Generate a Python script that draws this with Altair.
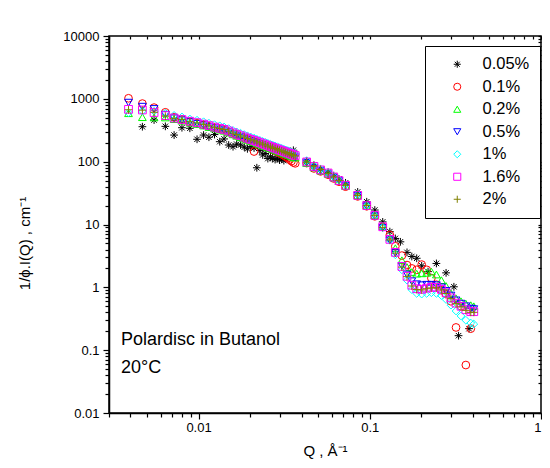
import altair as alt
import pandas as pd

SERIES = ["0.05%", "0.1%", "0.2%", "0.5%", "1%", "1.6%", "2%"]
COLORS = ["#000000", "#FF0000", "#00FF00", "#0000FF", "#00FFFF", "#FF00FF", "#808000"]
ASTER = "M-1,0L1,0M0,-1L0,1M-0.7,-0.7L0.7,0.7M-0.7,0.7L0.7,-0.7"
PLUS = "M-1,0L1,0M0,-1L0,1"
SHAPES = [ASTER, "circle", "triangle-up", "triangle-down", "diamond", "square", PLUS]

# common Q grid (1/A) for the coloured series
Q_LOW = [0.0039, 0.0047, 0.0055, 0.0064, 0.0072, 0.0080, 0.0089, 0.0098, 0.0107, 0.0115,
         0.0124, 0.0133, 0.0141, 0.0150, 0.0159, 0.0167, 0.0176, 0.0185, 0.0193, 0.0202,
         0.0211, 0.0219, 0.0228, 0.0237, 0.0245, 0.0254, 0.0263, 0.0271, 0.0280, 0.0289,
         0.0297, 0.0306, 0.0315, 0.0323, 0.0332, 0.0341, 0.0349, 0.0358, 0.0367]
Q_HIGH = [0.0428, 0.0472, 0.0516, 0.0571, 0.0616, 0.0661, 0.0722, 0.085, 0.096, 0.107,
          0.119, 0.131, 0.141, 0.154, 0.165, 0.176, 0.188, 0.201, 0.215, 0.229,
          0.245, 0.262, 0.279, 0.298, 0.319, 0.341, 0.364, 0.389, 0.405]

I_01 = [1020, 840, 725, 610, 510, 470, 430, 410, 385, 365, 345, 330, 318, 298, 278, 262, 248, 236, 225, 215,
        145, 200, 192, 183, 175, 168, 161, 155, 149, 143, 137, 132, 126, 120, 114, 108, 102, 97, 94,
        95, 78, 70, 62, 54, 48, 40, 28, 19.5, 13.5, 9.2, 6.8, 4.5, 3.2, 2.26, 2.0, 1.9, 2.3, 1.9, 1.4,
        1.1, 0.9, 0.78, 0.6, 0.23, 0.5, 0.058, 0.22, None]
I_02 = [590, 510, 505, 505, 475, 448, 418, 398, 376, 356, 337, 323, 310, 291, 272, 258, 245, 233, 223, 213,
        204, 197, 189, 182, 176, 169, 164, 159, 154, 149, 145, 141, 137, 133, 129, 126, 123, 119, 116,
        95, 81, 72, 64, 56, 49, 41, 29, 20, 14, 9.5, 6.2, 4.2, 2.7, 2.1, 1.75, 1.65, 1.67, 1.7, 1.78,
        1.6, 1.3, 1.05, 0.8, 0.67, 0.6, 0.55, 0.52, 0.50]
I_05 = [870, 750, 690, 560, 490, 455, 425, 400, 378, 358, 340, 326, 312, 293, 275, 261, 247, 236, 225, 215,
        206, 199, 191, 183, 177, 171, 165, 160, 155, 150, 146, 142, 138, 134, 130, 127, 124, 120, 117,
        96, 80, 71, 63, 55, 49, 41, 28.5, 19.5, 13.5, 8.8, 5.6, 3.5, 2.2, 1.6, 1.25, 1.12, 1.08, 1.1, 1.1,
        1.08, 1.0, 0.88, 0.74, 0.62, 0.55, 0.5, 0.46, 0.45]
I_1 = [600, 640, 635, 590, 545, 515, 478, 458, 432, 410, 388, 372, 357, 336, 314, 298, 283, 270, 258, 247,
       237, 228, 219, 210, 204, 196, 189, 184, 178, 173, 167, 163, 158, 154, 150, 146, 142, 138, 134,
       104, 86, 76, 67, 58, 51, 43, 30, 20, 14, 9.0, 5.6, 3.3, 1.9, 1.3, 0.92, 0.8, 0.78, 0.8, 0.82,
       0.8, 0.74, 0.64, 0.52, 0.42, 0.35, 0.30, 0.27, 0.26]
I_16 = [680, 665, 605, 540, 495, 468, 440, 418, 395, 375, 355, 340, 326, 308, 288, 273, 259, 247, 236, 226,
        217, 209, 201, 193, 186, 180, 174, 169, 164, 159, 154, 150, 146, 142, 138, 135, 131, 128, 125,
        99, 84, 74, 66, 57, 50, 42, 29, 20, 14, 9.2, 5.8, 3.6, 2.15, 1.5, 1.08, 0.95, 0.93, 0.97, 1.0,
        1.0, 0.93, 0.82, 0.68, 0.56, 0.50, 0.44, 0.41, 0.41]
I_2 = [670, 660, 610, 530, 490, 470, 433, 415, 392, 372, 352, 338, 325, 305, 285, 271, 257, 245, 234, 224,
       215, 207, 199, 191, 185, 178, 172, 167, 162, 157, 152, 148, 144, 140, 136, 133, 130, 126, 123,
       98, 85, 75, 65, 57, 50, 42, 29, 20, 14, 9.0, 5.7, 3.5, 2.1, 1.48, 1.05, 0.92, 0.91, 0.95, 0.98,
       0.98, 0.91, 0.80, 0.66, 0.55, 0.49, 0.43, 0.40, 0.40]

# 0.05 % series has its own Q points
Q_005 = [0.0047, 0.0055, 0.0064, 0.0072, 0.0080, 0.0089, 0.0098, 0.0107, 0.0115, 0.0124,
         0.0133, 0.0141, 0.0150, 0.0159, 0.0167, 0.0176, 0.0185, 0.0193, 0.0202, 0.0211,
         0.0219, 0.0228, 0.0237, 0.0245, 0.0254, 0.0263, 0.0271, 0.0280, 0.0289, 0.0297,
         0.0306, 0.0315, 0.0323, 0.0332, 0.0341, 0.0349, 0.0358,
         0.0428, 0.0472, 0.0516, 0.0571, 0.0616, 0.0661, 0.0722, 0.085, 0.096, 0.107,
         0.119, 0.131, 0.141, 0.151, 0.165, 0.176, 0.188, 0.201, 0.219, 0.245, 0.279,
         0.310, 0.330, 0.380]
I_005 = [360, 460, 365, 265, 347, 340, 227, 265, 245, 270, 208, 230, 184, 173, 190, 184, 170, 160, 175, 165,
         80, 150, 128, 135, 112, 120, 112, 108, 115, 106, 110, 104, 112, 118, 125, 140, 152,
         102, 88, 76, 68, 60, 53, 46, 33, 23, 17, 11, 7.7, 6.0, 5.3, 3.6, 3.1, 2.9, 2.2, 1.78, 2.4, 1.7,
         1.02, 0.17, 0.22]

X_TICKS = [0.003, 0.004, 0.005, 0.006, 0.007, 0.008, 0.009,
           0.01, 0.02, 0.03, 0.04, 0.05, 0.06, 0.07, 0.08, 0.09,
           0.1, 0.2, 0.3, 0.4, 0.5, 0.6, 0.7, 0.8, 0.9, 1]
Y_TICKS = []
for e in range(-2, 4):
    for m in range(1, 10):
        Y_TICKS.append(round(m * 10 ** e, 6))
Y_TICKS.append(10000)

ANNOT = ["Polardisc in Butanol", "20°C"]

rows = []
for q, v in zip(Q_005, I_005):
    rows.append({"Q": q, "I": v, "s": SERIES[0], "o": 0})
QALL = Q_LOW + Q_HIGH
for k, vals in enumerate([I_01, I_02, I_05, I_1, I_16, I_2]):
    for q, v in zip(QALL, vals):
        if v is not None:
            rows.append({"Q": q, "I": v, "s": SERIES[k + 1], "o": k + 1})
df = pd.DataFrame(rows)

FONT = "Liberation Sans"
POW10 = "abs(log(datum.value)/LN10 - round(log(datum.value)/LN10)) < 0.001"
tick_major_minor = {"condition": {"test": POW10, "value": 6}, "value": 4}

xscale = alt.Scale(type="log", domain=[0.003, 1], nice=False)
yscale = alt.Scale(type="log", domain=[0.01, 10000], nice=False)

points = alt.Chart(df).mark_point(filled=False, size=60, strokeWidth=1, opacity=1).encode(
    x=alt.X("Q:Q", scale=xscale, title="Q , Å⁻¹",
            axis=alt.Axis(values=X_TICKS, format="~g", labelExpr=f"{POW10} ? datum.label : ''",
                          tickSize=tick_major_minor, labelOverlap=False, labelFlush=True,
                          labelPadding=2, titlePadding=9, titleFontSize=15)),
    y=alt.Y("I:Q", scale=yscale, title="1/ϕ.I(Q) , cm⁻¹",
            axis=alt.Axis(values=Y_TICKS, format="~g", labelExpr=f"{POW10} ? datum.label : ''",
                          tickSize=tick_major_minor, labelOverlap=False, labelFlush=False,
                          labelPadding=4, titlePadding=30, titleY=207, titleFontSize=15)),
    color=alt.Color("s:N", scale=alt.Scale(domain=SERIES, range=COLORS),
                    legend=alt.Legend(title=None, orient="none", legendX=316, legendY=10,
                                      strokeColor="black", fillColor="white", padding=10,
                                      symbolOffset=14, labelOffset=17, rowPadding=5.5,
                                      labelFont=FONT, labelFontSize=16.5, labelColor="black",
                                      symbolSize=50, symbolStrokeWidth=1)),
    shape=alt.Shape("s:N", scale=alt.Scale(domain=SERIES, range=SHAPES)),
    order=alt.Order("o:Q"),
)

mirror = alt.Chart(df).mark_point(opacity=0).encode(
    x=alt.X("Q:Q", scale=xscale,
            axis=alt.Axis(orient="top", values=X_TICKS, labels=False, title=None, domain=False,
                          tickSize=3, offset=-3)),
    y=alt.Y("I:Q", scale=yscale,
            axis=alt.Axis(orient="right", values=Y_TICKS, labels=False, title=None, domain=False,
                          tickSize=3, offset=-3)),
)

t1 = alt.Chart(pd.DataFrame({"t": [ANNOT[0]]})).mark_text(
    align="left", baseline="alphabetic", font=FONT, fontSize=18, color="black"
).encode(x=alt.value(12), y=alt.value(309), text="t:N")
t2 = alt.Chart(pd.DataFrame({"t": [ANNOT[1]]})).mark_text(
    align="left", baseline="alphabetic", font=FONT, fontSize=18, color="black"
).encode(x=alt.value(12), y=alt.value(337), text="t:N")

chart = alt.layer(points, mirror, t1, t2).resolve_axis(x="independent", y="independent").properties(
    width=432, height=377,
    padding={"left": 101, "top": 28, "right": 1, "bottom": 46},
    autosize=alt.AutoSizeParams(type="none"),
).configure_view(stroke="black", strokeWidth=1.5).configure_axis(
    grid=False, domainColor="black", domainWidth=1.5, tickColor="black", tickWidth=1.2,
    labelFont=FONT, labelFontSize=13, labelColor="black",
    titleFont=FONT, titleFontWeight="normal", titleColor="black",
)

chart.save("out.html", embed_options={"renderer": "svg", "actions": False})
